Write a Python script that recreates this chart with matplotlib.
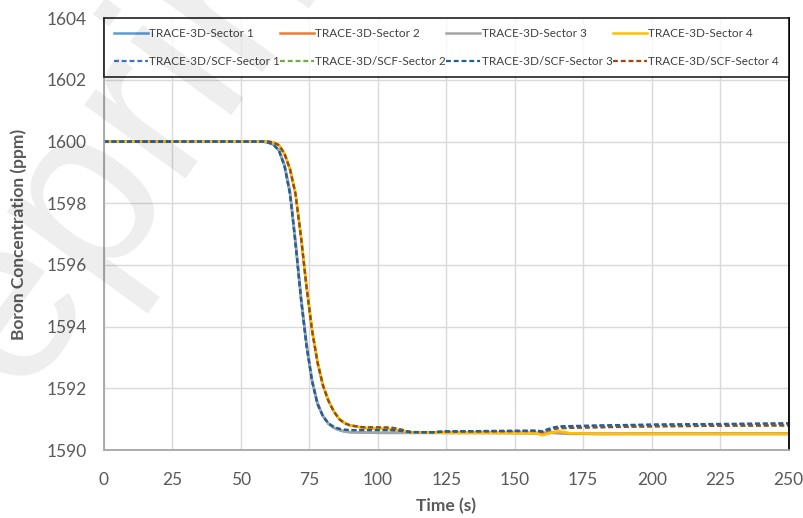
import matplotlib
matplotlib.use("Agg")
import matplotlib.pyplot as plt

plt.rcParams['font.family'] = ['Lato', 'DejaVu Sans']

time = [0, 55, 58, 60, 62, 64, 66, 68, 70, 72, 74, 76, 78, 80, 82, 84, 86, 88, 90,
        95, 100, 105, 108, 112, 120, 125, 140, 158, 160, 163, 166, 170, 180, 200, 225, 250]

# TRACE-3D, sectors 1 and 3 (faster drop)
trace_s1 = [1600, 1600, 1600, 1599.97, 1599.9, 1599.7, 1599.2, 1598.3, 1596.7, 1594.9, 1593.4, 1592.25,
            1591.5, 1591.1, 1590.85, 1590.72, 1590.65, 1590.6, 1590.58,
            1590.57, 1590.56, 1590.56, 1590.56, 1590.56, 1590.56, 1590.56, 1590.56, 1590.56, 1590.56,
            1590.57, 1590.55, 1590.53, 1590.53, 1590.54, 1590.54, 1590.54]
trace_s3 = [1600, 1600, 1600, 1599.97, 1599.9, 1599.72, 1599.25, 1598.4, 1596.8, 1595.0, 1593.5, 1592.3,
            1591.55, 1591.12, 1590.87, 1590.73, 1590.65, 1590.6, 1590.58,
            1590.57, 1590.56, 1590.56, 1590.56, 1590.56, 1590.56, 1590.56, 1590.56, 1590.55, 1590.55,
            1590.56, 1590.55, 1590.53, 1590.53, 1590.53, 1590.53, 1590.53]
# TRACE-3D, sectors 2 and 4 (slower drop)
trace_s2 = [1600, 1600, 1600, 1600, 1599.97, 1599.88, 1599.6, 1599.1, 1598.3, 1596.9, 1595.3, 1593.9,
            1592.85, 1592.1, 1591.6, 1591.25, 1591.0, 1590.87, 1590.8,
            1590.72, 1590.7, 1590.68, 1590.64, 1590.58, 1590.57, 1590.56, 1590.56, 1590.55, 1590.5,
            1590.56, 1590.6, 1590.54, 1590.52, 1590.52, 1590.52, 1590.52]
trace_s4 = [1600, 1600, 1600, 1600, 1599.97, 1599.88, 1599.62, 1599.12, 1598.35, 1596.95, 1595.35, 1593.95,
            1592.9, 1592.12, 1591.62, 1591.26, 1591.01, 1590.88, 1590.8,
            1590.72, 1590.7, 1590.68, 1590.64, 1590.58, 1590.57, 1590.56, 1590.56, 1590.55, 1590.48,
            1590.56, 1590.61, 1590.55, 1590.53, 1590.53, 1590.53, 1590.53]

# TRACE-3D/SCF
scf_s1 = [1600, 1600, 1600, 1599.97, 1599.9, 1599.7, 1599.2, 1598.3, 1596.7, 1594.9, 1593.4, 1592.25,
          1591.5, 1591.1, 1590.87, 1590.75, 1590.69, 1590.66, 1590.65,
          1590.65, 1590.65, 1590.65, 1590.63, 1590.58, 1590.58, 1590.61, 1590.62, 1590.63, 1590.61,
          1590.7, 1590.76, 1590.77, 1590.79, 1590.82, 1590.84, 1590.86]
scf_s3 = [1600, 1600, 1600, 1599.97, 1599.9, 1599.7, 1599.2, 1598.3, 1596.7, 1594.9, 1593.4, 1592.25,
          1591.5, 1591.1, 1590.87, 1590.75, 1590.69, 1590.66, 1590.65,
          1590.65, 1590.65, 1590.65, 1590.63, 1590.58, 1590.58, 1590.61, 1590.62, 1590.63, 1590.61,
          1590.71, 1590.77, 1590.78, 1590.8, 1590.83, 1590.85, 1590.87]
scf_s2 = [1600, 1600, 1600, 1600, 1599.97, 1599.88, 1599.6, 1599.1, 1598.3, 1596.9, 1595.3, 1593.9,
          1592.85, 1592.1, 1591.6, 1591.25, 1591.0, 1590.87, 1590.8,
          1590.74, 1590.74, 1590.73, 1590.68, 1590.59, 1590.58, 1590.6, 1590.61, 1590.62, 1590.59,
          1590.66, 1590.71, 1590.72, 1590.74, 1590.77, 1590.79, 1590.8]
scf_s4 = [1600, 1600, 1600, 1600, 1599.97, 1599.88, 1599.6, 1599.1, 1598.3, 1596.9, 1595.3, 1593.9,
          1592.85, 1592.1, 1591.6, 1591.25, 1591.0, 1590.87, 1590.8,
          1590.74, 1590.74, 1590.73, 1590.68, 1590.59, 1590.58, 1590.6, 1590.61, 1590.62, 1590.59,
          1590.66, 1590.71, 1590.72, 1590.74, 1590.77, 1590.79, 1590.8]

fig = plt.figure(figsize=(8.04, 5.18), dpi=100)
ax = fig.add_axes([0.129, 0.131, 0.852, 0.834])

dash = (0, (2.2, 1.3))
l1, = ax.plot(time, trace_s1, color='#5B9BD5', lw=1.8, label='TRACE-3D-Sector 1')
l3, = ax.plot(time, trace_s3, color='#A5A5A5', lw=1.8, label='TRACE-3D-Sector 3')
l2, = ax.plot(time, trace_s2, color='#ED7D31', lw=1.8, label='TRACE-3D-Sector 2')
l4, = ax.plot(time, trace_s4, color='#FFC000', lw=1.8, label='TRACE-3D-Sector 4')
d2, = ax.plot(time, scf_s2, color='#70AD47', lw=1.6, ls=dash, label='TRACE-3D/SCF-Sector 2')
d4, = ax.plot(time, scf_s4, color='#9E480E', lw=1.6, ls=dash, label='TRACE-3D/SCF-Sector 4')
d1, = ax.plot(time, scf_s1, color='#4472C4', lw=1.6, ls=dash, label='TRACE-3D/SCF-Sector 1')
d3, = ax.plot(time, scf_s3, color='#255E91', lw=1.6, ls=dash, label='TRACE-3D/SCF-Sector 3')

ax.set_xlim(0, 250)
ax.set_ylim(1590, 1604)
ax.set_xticks(range(0, 251, 25))
ax.set_yticks(range(1590, 1605, 2))
ax.grid(True, color='#D9D9D9', lw=1)
ax.set_axisbelow(True)
ax.tick_params(axis='y', length=0, labelsize=12.5, labelcolor='#595959', pad=12)
ax.tick_params(axis='x', length=0, labelsize=12.5, labelcolor='#595959', pad=16)
for s in ['left', 'bottom']:
    ax.spines[s].set_color('#A6A6A6')
    ax.spines[s].set_linewidth(1.3)
ax.spines['right'].set_color('black')
ax.spines['right'].set_linewidth(1.3)
ax.spines['top'].set_visible(False)

ax.set_xlabel('Time (s)', fontsize=12.5, fontweight='bold', color='#595959', labelpad=7)
ax.set_ylabel('Boron Concentration (ppm)', fontsize=12.5, fontweight='bold', color='#595959', labelpad=14)

handles = [l1, d1, l2, d2, l3, d3, l4, d4]
leg = ax.legend(handles=handles, loc='upper left', bbox_to_anchor=(0, 1, 1, 0), mode='expand',
                ncol=4, fontsize=8.5, frameon=True, fancybox=False, edgecolor='black',
                handlelength=2.9, handletextpad=0.1, labelspacing=1.45, borderpad=0.85,
                borderaxespad=0, columnspacing=0.5)
leg.get_frame().set_linewidth(1.3)
for txt in leg.get_texts():
    txt.set_color('#404040')

# faint watermark
fig.text(0.13, 0.69, 'Preprints', rotation=54, fontsize=170, color='black', alpha=0.07,
         ha='center', va='center', family='Liberation Sans', zorder=10)

fig.savefig('out.png', dpi=100)
